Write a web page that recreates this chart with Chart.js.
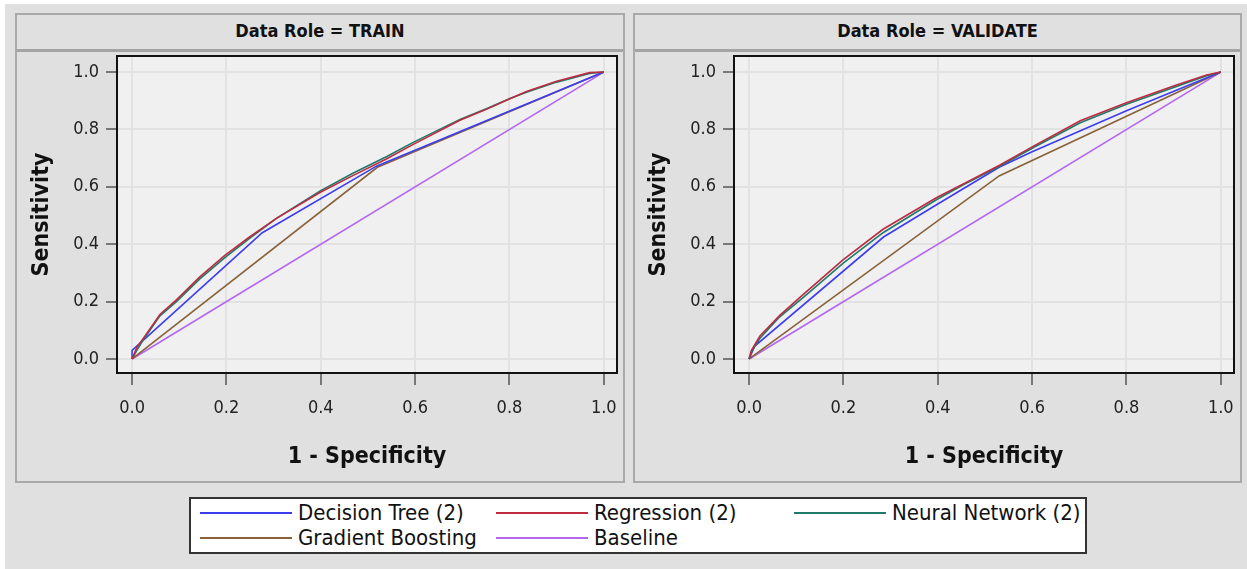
<!DOCTYPE html>
<html>
<head>
<meta charset="utf-8">
<script src="https://cdn.jsdelivr.net/npm/chart.js@4.4.1/dist/chart.umd.min.js"></script>
<style>
  html, body { margin: 0; padding: 0; background: #fff; width: 1247px; height: 569px; overflow: hidden; }
  #page { position: absolute; left: 5px; top: 4px; width: 1242px; height: 565px; background: #e0e0e0; }
  .panel { position: absolute; top: 13px; height: 470px; box-sizing: border-box; border: 2px solid #a9a9a9; }
  .head { position: absolute; left: 0; right: 0; top: 0; height: 34px; border-bottom: 3px solid #a4a4a4;
          font: bold 18px 'DejaVu Sans Condensed', 'DejaVu Sans', sans-serif; color: #111; text-align: center; line-height: 32px; }
  canvas.roc { position: absolute; }
  #legend { position: absolute; left: 189px; top: 497px; width: 898px; height: 57px; box-sizing: border-box;
            border: 2px solid #333; background: #fff; }
  .item { position: absolute; height: 24px; font: 22px 'DejaVu Sans Condensed', 'DejaVu Sans', sans-serif; color: #111; line-height: 24px; white-space: nowrap; }
  .item i { position: absolute; left: 0; top: 11px; width: 92px; height: 0; border-top: 2px solid; }
  .item span { position: absolute; left: 98px; top: 0; }
</style>
</head>
<body>
<div id="page"></div>
<div class="panel" style="left:15px;width:610px;"><div class="head">Data Role = TRAIN</div></div>
<div class="panel" style="left:633px;width:609px;"><div class="head">Data Role = VALIDATE</div></div>
<canvas class="roc" id="trainChart" width="606" height="432" style="left:17px;top:49px;width:606px;height:432px;"></canvas>
<canvas class="roc" id="validChart" width="606" height="432" style="left:634px;top:49px;width:606px;height:432px;"></canvas>
<div id="legend"></div>
<script>
  // axis ticks
  var xTicks = [0, 0.2, 0.4, 0.6, 0.8, 1.0];
  var yTicks = [0, 0.2, 0.4, 0.6, 0.8, 1.0];

  // TRAIN
  var trainTreeX = [0, 0, 0.276, 0.518, 1];
  var trainTreeY = [0, 0.03, 0.44, 0.672, 1];
  var trainBoostX = [0, 0.52, 1];
  var trainBoostY = [0, 0.668, 1];
  var trainRegX = [0, 0.01, 0.023, 0.059, 0.094, 0.143, 0.196, 0.249, 0.306, 0.398, 0.469, 0.539, 0.596, 0.695, 0.751, 0.801, 0.836, 0.9, 0.97, 1];
  var trainRegY = [0, 0.04, 0.07, 0.155, 0.206, 0.285, 0.36, 0.425, 0.49, 0.58, 0.64, 0.697, 0.748, 0.832, 0.87, 0.907, 0.932, 0.968, 0.998, 1];
  var trainNnY  = [0, 0.03, 0.065, 0.15, 0.2, 0.278, 0.352, 0.42, 0.49, 0.585, 0.648, 0.705, 0.755, 0.835, 0.872, 0.908, 0.93, 0.965, 0.995, 1];

  // VALIDATE
  var validTreeX = [0, 0.012, 0.285, 0.4, 0.53, 0.6, 0.8, 1];
  var validTreeY = [0, 0.045, 0.425, 0.54, 0.668, 0.722, 0.865, 1];
  var validBoostX = [0, 0.53, 1];
  var validBoostY = [0, 0.638, 1];
  var validRegX = [0, 0.005, 0.023, 0.065, 0.115, 0.199, 0.284, 0.397, 0.454, 0.532, 0.603, 0.702, 0.8, 0.906, 0.97, 1];
  var validRegY = [0, 0.03, 0.08, 0.152, 0.225, 0.345, 0.452, 0.562, 0.61, 0.676, 0.742, 0.83, 0.893, 0.955, 0.99, 1];
  var validNnY  = [0, 0.025, 0.072, 0.147, 0.215, 0.333, 0.44, 0.555, 0.607, 0.672, 0.737, 0.823, 0.888, 0.95, 0.987, 1];

  var baseX = [0, 1];
  var baseY = [0, 1];

  var series = ['Decision Tree (2)', 'Regression (2)', 'Neural Network (2)', 'Gradient Boosting', 'Baseline'];
  var colors = ['#3d3df0', '#be2b40', '#1f7a6c', '#8a6239', '#b366f0'];

  var tickFont = { family: "'DejaVu Sans Condensed', 'DejaVu Sans', sans-serif", size: 18 };
  var titleFont = { family: "'DejaVu Sans Condensed', 'DejaVu Sans', sans-serif", size: 23, weight: 'bold' };

  function pts(xs, ys) {
    return xs.map(function (x, i) { return { x: x, y: ys[i] }; });
  }

  // plot background + closed frame
  var framePlugin = {
    id: 'frame',
    beforeDraw: function (chart) {
      var a = chart.chartArea, c = chart.ctx;
      c.save();
      c.fillStyle = '#f0f0f0';
      c.fillRect(a.left, a.top, a.right - a.left, a.bottom - a.top);
      c.restore();
    },
    afterDraw: function (chart) {
      var a = chart.chartArea, c = chart.ctx;
      c.save();
      c.strokeStyle = '#111';
      c.lineWidth = 2;
      c.strokeRect(a.left, a.top, a.right - a.left, a.bottom - a.top);
      c.restore();
    }
  };

  function makeChart(id, tree, reg, nn, boost) {
    var sets = [tree, reg, nn, boost, pts(baseX, baseY)];
    var zOrder = [2, 0, 1, 3, 4];
    new Chart(document.getElementById(id), {
      type: 'scatter',
      data: {
        datasets: sets.map(function (d, i) {
          return { label: series[i], data: d, showLine: true, borderColor: colors[i], backgroundColor: colors[i],
                   borderWidth: 1.6, pointRadius: 0, tension: 0, order: zOrder[i] };
        })
      },
      options: {
        responsive: false, animation: false, events: [],
        layout: { padding: { top: 7, right: 6, left: 0, bottom: 0 } },
        plugins: { legend: { display: false }, tooltip: { enabled: false } },
        scales: {
          x: {
            type: 'linear', min: -0.032, max: 1.028,
            afterBuildTicks: function (s) { s.ticks = xTicks.map(function (v) { return { value: v }; }); },
            afterFit: function (s) { s.height = 108; s.paddingLeft = 0; s.paddingRight = 0; },
            grid: { color: '#e2e2e2', lineWidth: 2, tickColor: '#111', tickWidth: 1, tickLength: 12 },
            border: { display: false },
            ticks: { padding: 13, maxRotation: 0, color: '#222', font: tickFont,
                      callback: function (v) { return v.toFixed(1); } },
            title: { display: true, text: '1 - Specificity', color: '#111', font: titleFont, padding: { bottom: 10 } }
          },
          y: {
            type: 'linear', min: -0.049, max: 1.056,
            afterBuildTicks: function (s) { s.ticks = yTicks.map(function (v) { return { value: v }; }); },
            afterFit: function (s) { s.width = 100; s.paddingTop = 0; s.paddingBottom = 0; },
            grid: { color: '#e2e2e2', lineWidth: 2, tickColor: '#111', tickWidth: 1, tickLength: 11 },
            border: { display: false },
            ticks: { padding: 7, color: '#222', font: tickFont,
                     callback: function (v) { return v.toFixed(1); } },
            title: { display: true, text: 'Sensitivity', color: '#111', font: titleFont, padding: { top: 11 } }
          }
        }
      },
      plugins: [framePlugin]
    });
  }

  makeChart('trainChart', pts(trainTreeX, trainTreeY), pts(trainRegX, trainRegY), pts(trainRegX, trainNnY), pts(trainBoostX, trainBoostY));
  makeChart('validChart', pts(validTreeX, validTreeY), pts(validRegX, validRegY), pts(validRegX, validNnY), pts(validBoostX, validBoostY));

  // shared legend below both panels
  var legendCols = [200, 496, 794];
  var legendRows = [501, 526];
  var legend = document.getElementById('legend');
  series.forEach(function (name, i) {
    var el = document.createElement('div');
    el.className = 'item';
    el.style.left = (legendCols[i % 3] - 191) + 'px';
    el.style.top = (legendRows[Math.floor(i / 3)] - 499) + 'px';
    el.innerHTML = '<i style="border-color:' + colors[i] + '"></i><span>' + name + '</span>';
    legend.appendChild(el);
  });
</script>
</body>
</html>
